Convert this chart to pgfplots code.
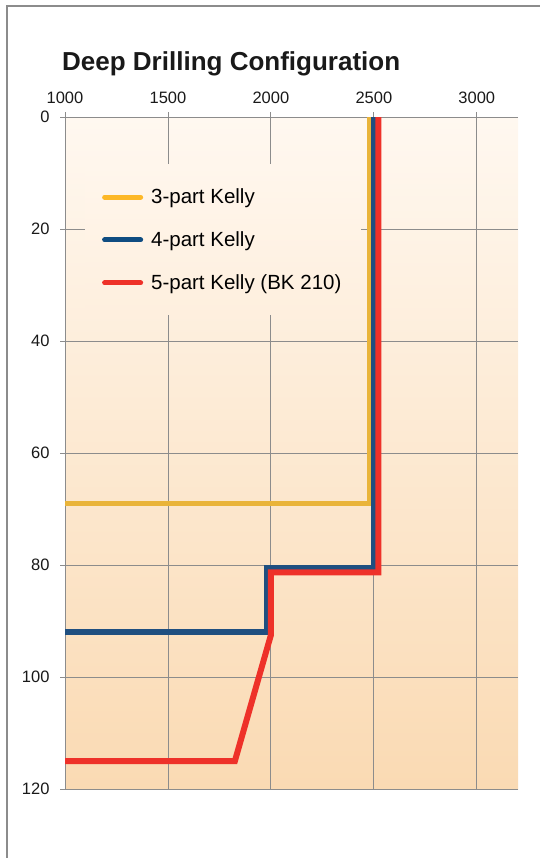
\documentclass[border=0pt]{standalone}
\usepackage{pgfplots}
\pgfplotsset{compat=1.18}
\usepackage{fontspec}
\setmainfont{Liberation Sans}
\definecolor{gridgray}{HTML}{8C8C8C}
\definecolor{yel}{HTML}{E9B43A}
\definecolor{yelleg}{HTML}{FDB827}
\definecolor{blu}{HTML}{1F4F80}
\definecolor{bluleg}{HTML}{0F4C81}
\definecolor{redc}{HTML}{EE3129}
\definecolor{bgtop}{HTML}{FFF8F0}
\definecolor{bgbot}{HTML}{FADAB3}
\definecolor{legtop}{HTML}{FFF6EC}
\definecolor{legbot}{HTML}{FEEFDE}
\begin{document}
\begin{tikzpicture}
\path[use as bounding box] (0,0) rectangle (540pt,-858pt);
\draw[gray!90, line width=1.6pt] (7pt,-858pt) -- (7pt,-6pt) -- (540pt,-6pt);
\node[anchor=base west, font=\fontsize{26}{30}\selectfont\bfseries, inner sep=0pt, text=black!90] at (62pt,-71pt) {Deep Drilling Configuration};
\begin{axis}[
 at={(65pt,-789pt)}, anchor=south west,
 scale only axis, width=453pt, height=672pt,
 xmin=1000, xmax=3200, ymin=0, ymax=120, y dir=reverse,
 xtick={1000,1500,...,3000}, ytick={0,20,...,120},
 xtick pos=right, xticklabel pos=right, ytick pos=left,
 tick align=outside, major tick length=5pt,
 tick style={gridgray, line width=0.9pt},
 grid=major, major grid style={gridgray, line width=0.9pt},
 axis line style={draw=none},
 axis background/.style={shade, top color=bgtop, bottom color=bgbot},
 ticklabel style={font=\fontsize{16.5}{19}\selectfont, text=black!90},
 xticklabel style={yshift=5pt},
 yticklabel style={xshift=-7pt},
 /pgf/number format/assume math mode=true,
 /pgf/number format/1000 sep={},
 legend style={at={(0.044,0.929)}, anchor=north west, draw=none,
   shade, top color=legtop, bottom color=legbot,
   font=\fontsize{20.5}{24}\selectfont, row sep=22.5pt, column sep=6pt,
   inner xsep=17pt, inner ysep=22pt},
 legend cell align=left,
 legend image code/.code={\draw[#1, line width=5pt, line cap=round] (0pt,0pt) -- (36pt,0pt);},
]
\addplot[yel, line width=5pt, forget plot] coordinates {(1000,69) (2478,69) (2478,0)};
\addplot[blu, line width=6pt, forget plot] coordinates {(1000,92) (1980,92) (1980,80.5) (2500,80.5) (2500,0)};
\addplot[redc, line width=6pt, forget plot] coordinates {(1000,115) (1825,115) (2000,92.5) (2000,81.3) (2522,81.3) (2522,0)};
\addlegendimage{yelleg}\addlegendentry{3-part Kelly}
\addlegendimage{bluleg}\addlegendentry{4-part Kelly}
\addlegendimage{redc}\addlegendentry{5-part Kelly (BK 210)}
\end{axis}
\end{tikzpicture}
\end{document}
